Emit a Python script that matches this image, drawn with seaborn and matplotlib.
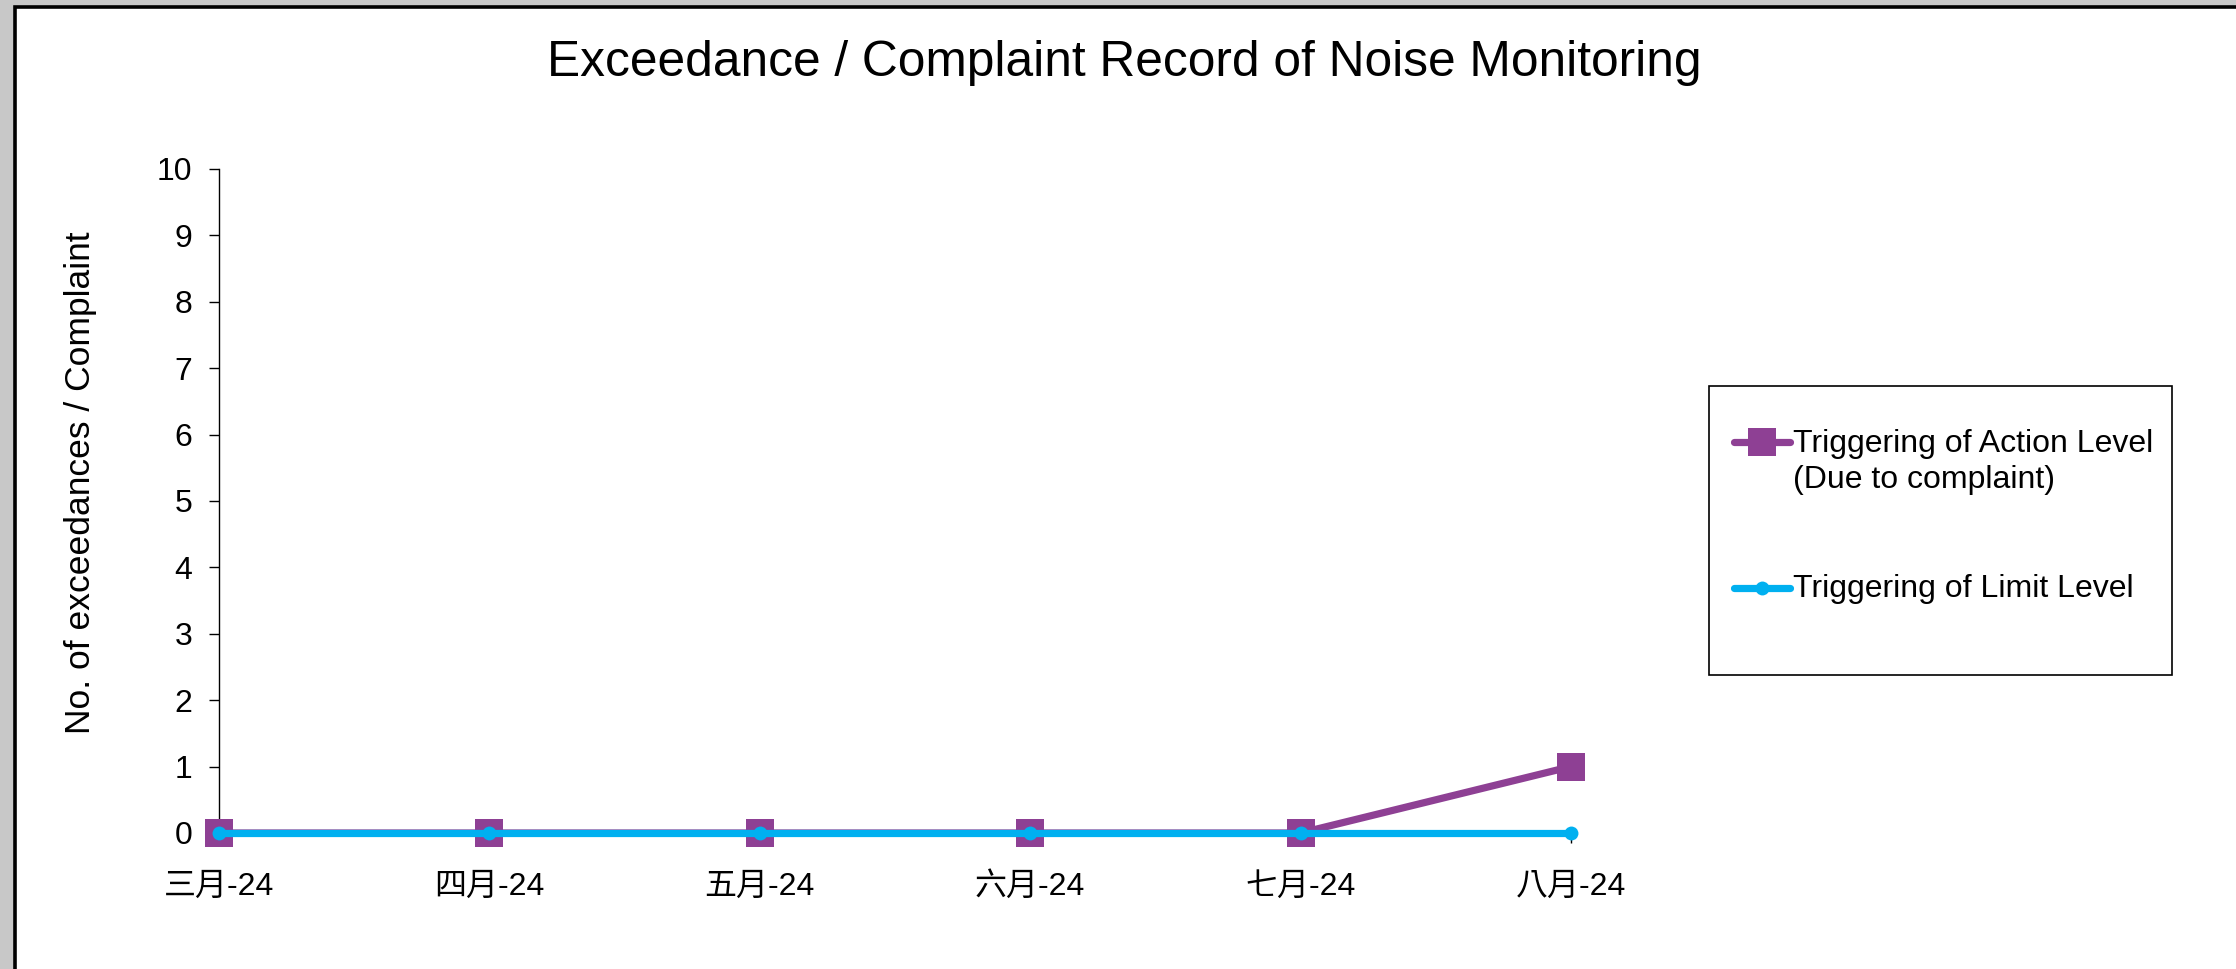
import pandas as pd
import matplotlib
matplotlib.use("Agg")
import matplotlib.pyplot as plt
from matplotlib.patches import Rectangle
import seaborn as sns

# Chart data
months = ['三月-24', '四月-24', '五月-24', '六月-24', '七月-24', '八月-24']
action_level = [0, 0, 0, 0, 0, 1]
limit_level = [0, 0, 0, 0, 0, 0]
action_label = 'Triggering of Action Level\n(Due to complaint)'
limit_label = 'Triggering of Limit Level'
y_ticks = list(range(0, 11))

PURPLE = '#8E4094'
CYAN = '#00B0F0'

sns.set_theme(style='white')
plt.rcParams['font.family'] = ['Liberation Sans', 'Noto Sans CJK TC', 'DejaVu Sans']
plt.rcParams['text.color'] = 'black'
plt.rcParams['axes.labelcolor'] = 'black'
plt.rcParams['xtick.color'] = 'black'
plt.rcParams['ytick.color'] = 'black'

W, H = 2236, 969
fig = plt.figure(figsize=(W / 100, H / 100), dpi=100, facecolor='#c8c8c8')

# white chart area with black frame (screenshot look)
frame = Rectangle((14.5 / W, -0.05), 1.0, (H - 6.5) / H + 0.05, transform=fig.transFigure,
                  facecolor='white', edgecolor='black', linewidth=2.6, zorder=-10)
fig.patches.append(frame)

# legend box (drawn under the axes so the legend entries sit on top)
box = Rectangle((1709 / W, (H - 675) / H), 463 / W, 289 / H, transform=fig.transFigure,
                facecolor='white', edgecolor='black', linewidth=1.2, zorder=-5)
fig.patches.append(box)

ax = fig.add_axes([219 / W, (H - 833) / H, 1352 / W, 664 / H])
ax.set_facecolor('none')

df_action = pd.DataFrame({'Month': months, 'Count': action_level})
df_limit = pd.DataFrame({'Month': months, 'Count': limit_level})

sns.lineplot(data=df_action, x='Month', y='Count', ax=ax, color=PURPLE, linewidth=5.2,
             marker='s', markersize=20, markeredgewidth=0, label=action_label,
             clip_on=False, zorder=3)
sns.lineplot(data=df_limit, x='Month', y='Count', ax=ax, color=CYAN, linewidth=5.2,
             marker='o', markersize=10, markeredgewidth=0, label=limit_label,
             clip_on=False, zorder=4)

ax.set_xlim(0, len(months) - 1)
ax.set_ylim(0, 10)
ax.set_yticks(y_ticks)
ax.set_xlabel('')
ax.set_ylabel('No. of exceedances / Complaint', fontsize=25.5, color='black')
ax.yaxis.set_label_coords(-0.090, 0.528)

for side in ['top', 'right']:
    ax.spines[side].set_visible(False)
for side in ['left', 'bottom']:
    ax.spines[side].set_color('black')
    ax.spines[side].set_linewidth(1.0)

ax.tick_params(axis='y', direction='out', length=7, width=1.0, color='black',
               labelcolor='black', labelsize=23, pad=12, left=True)
ax.tick_params(axis='x', direction='out', length=7, width=1.0, color='black',
               labelcolor='black', labelsize=23, pad=21, bottom=True)

fig.text(1124 / W, (H - 76) / H, 'Exceedance / Complaint Record of Noise Monitoring',
         fontsize=35.7, ha='center', va='baseline', color='black')

leg = ax.legend(loc='center left', bbox_to_anchor=(1734 / W, (H - 517) / H),
                bbox_transform=fig.transFigure, frameon=False, fontsize=23,
                handlelength=1.75, handleheight=1.1, handletextpad=0.1,
                labelspacing=2.5, borderpad=0, borderaxespad=0)
for t in leg.get_texts():
    t.set_linespacing(1.25)
    t.set_color('black')
# put each legend marker level with the first line of its label
for col in leg._legend_handle_box.get_children():
    for row in col.get_children():
        row.align = 'top'

fig.savefig('out.png', dpi=100, facecolor=fig.get_facecolor())
